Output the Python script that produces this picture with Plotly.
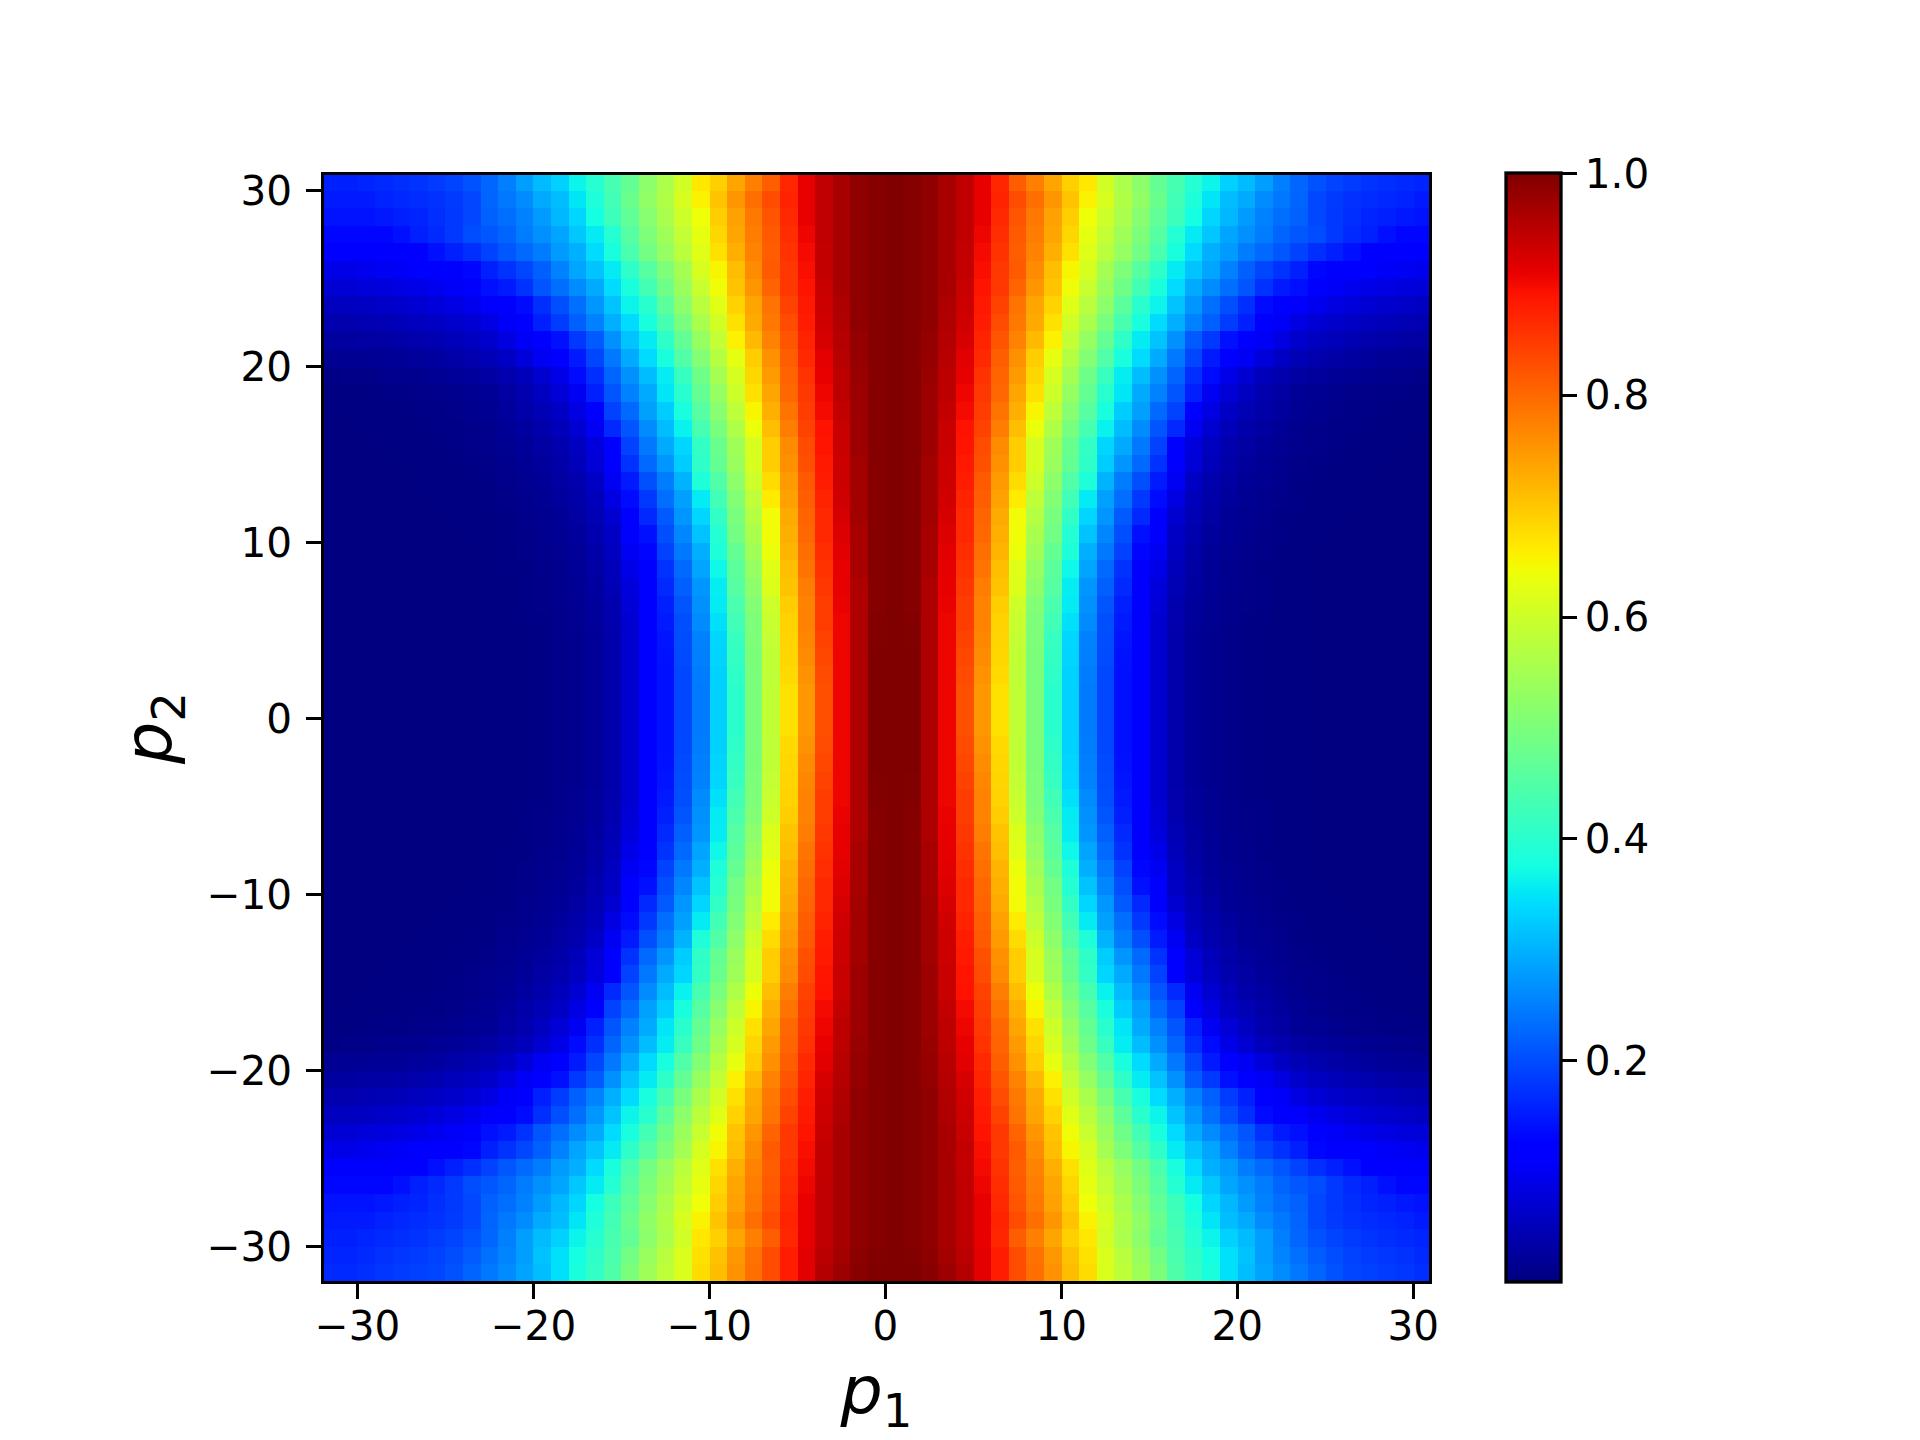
import plotly.graph_objects as go

# cell edges, pcolor style: 64 edges give 63 cells
p_edges = list(range(-32, 32))

# values, by |p2| (32 down to 0), each row by |p1| (32 down to 0)
# the picture mirrors around the cell at p1=0 and the cell at p2=0
z_abs_p2 = {
    32: [.165, .165, .17, .178, .183, .188, .193, .205, .223, .243, .262, .286, .311, .345, .38, .41, .445, .5, .545, .58, .615, .677, .71, .755, .793, .83, .88, .915, .955, .975, .992, 1, 1],
    31: [.16, .16, .165, .173, .178, .183, .19, .2, .215, .235, .255, .28, .315, .345, .375, .405, .44, .49, .535, .575, .615, .672, .705, .75, .79, .83, .88, .915, .95, .97, .99, .998, 1],
    30: [.155, .155, .16, .165, .17, .175, .183, .192, .205, .225, .25, .28, .31, .33, .365, .395, .435, .47, .52, .56, .605, .665, .69, .735, .775, .81, .87, .91, .945, .965, .985, .995, 1],
    29: [.15, .15, .15, .158, .163, .168, .173, .182, .195, .223, .243, .262, .292, .311, .35, .386, .429, .478, .526, .563, .611, .654, .703, .751, .793, .83, .873, .91, .945, .965, .985, .995, 1],
    28: [.143, .143, .143, .148, .155, .16, .17, .18, .195, .22, .233, .252, .277, .306, .335, .375, .423, .466, .514, .557, .6, .64, .693, .74, .783, .82, .868, .91, .945, .965, .985, .995, 1],
    27: [.13, .13, .13, .13, .14, .155, .165, .18, .2, .21, .223, .247, .267, .287, .321, .355, .393, .453, .502, .545, .587, .63, .682, .735, .778, .815, .862, .905, .945, .965, .985, .995, 1],
    26: [.115, .115, .115, .115, .118, .122, .14, .155, .17, .19, .21, .228, .247, .277, .297, .34, .38, .44, .49, .532, .575, .622, .672, .725, .772, .81, .857, .9, .942, .965, .985, .995, 1],
    25: [.09, .09, .095, .1, .105, .11, .115, .12, .13, .155, .174, .194, .218, .252, .287, .316, .355, .405, .453, .502, .55, .611, .65, .709, .762, .815, .852, .895, .942, .965, .985, .995, 1],
    24: [.072, .073, .076, .08, .085, .09, .097, .105, .115, .14, .15, .174, .208, .233, .262, .292, .34, .38, .43, .484, .538, .593, .642, .703, .751, .804, .852, .889, .938, .965, .985, .995, 1],
    23: [.054, .055, .058, .062, .067, .072, .078, .085, .095, .107, .12, .135, .17, .203, .233, .272, .316, .365, .399, .46, .52, .575, .622, .688, .735, .788, .84, .884, .933, .96, .985, .995, 1],
    22: [.04, .041, .043, .046, .05, .054, .059, .065, .073, .085, .105, .125, .155, .184, .218, .252, .297, .34, .38, .435, .496, .557, .605, .672, .73, .783, .83, .88, .93, .958, .985, .995, 1],
    21: [.028, .029, .03, .032, .035, .039, .044, .05, .056, .066, .083, .103, .12, .14, .18, .213, .267, .316, .355, .405, .47, .532, .587, .655, .714, .772, .82, .873, .925, .955, .982, .995, 1],
    20: [.016, .017, .018, .02, .022, .025, .029, .034, .04, .048, .06, .078, .1, .12, .15, .194, .243, .292, .34, .38, .447, .508, .569, .63, .693, .756, .81, .868, .915, .952, .98, .995, 1],
    19: [.006, .007, .008, .01, .012, .014, .017, .021, .025, .03, .04, .05, .07, .09, .135, .17, .223, .267, .311, .356, .417, .484, .55, .611, .682, .746, .804, .857, .91, .948, .978, .995, 1],
    18: [.003, .003, .004, .005, .006, .007, .009, .012, .016, .02, .03, .04, .055, .075, .1, .155, .208, .252, .292, .35, .399, .472, .532, .6, .672, .735, .8, .852, .905, .948, .975, .995, 1],
    17: [.002, .002, .002, .003, .004, .005, .006, .008, .012, .016, .025, .035, .045, .06, .085, .12, .19, .228, .282, .326, .38, .453, .514, .581, .65, .725, .788, .846, .9, .942, .975, .995, 1],
    16: [.001, .001, .002, .002, .003, .004, .005, .006, .009, .013, .02, .028, .037, .05, .07, .1, .164, .208, .262, .311, .362, .435, .496, .563, .636, .709, .778, .84, .89, .938, .975, .995, 1],
    15: [.001, .001, .001, .002, .002, .003, .004, .005, .007, .01, .015, .022, .03, .04, .055, .08, .12, .19, .243, .292, .335, .41, .478, .545, .611, .693, .762, .83, .889, .938, .975, .995, 1],
    14: [.001, .001, .001, .001, .002, .002, .003, .004, .005, .008, .012, .018, .025, .035, .05, .075, .115, .174, .228, .272, .326, .405, .472, .538, .611, .693, .756, .825, .884, .933, .97, .995, 1],
    13: [.001, .001, .001, .001, .001, .002, .002, .003, .004, .006, .01, .015, .02, .03, .04, .06, .1, .15, .203, .247, .301, .386, .447, .52, .6, .677, .746, .815, .88, .933, .97, .995, 1],
    12: [.001, .001, .001, .001, .001, .001, .002, .002, .003, .005, .008, .012, .016, .024, .035, .05, .085, .135, .18, .233, .282, .355, .429, .508, .581, .661, .74, .81, .873, .93, .97, .995, 1],
    11: [.001, .001, .001, .001, .001, .001, .001, .002, .002, .004, .006, .01, .014, .02, .03, .045, .07, .12, .164, .213, .272, .335, .41, .496, .569, .643, .73, .804, .868, .925, .97, .995, 1],
    10: [.001, .001, .001, .001, .001, .001, .001, .001, .002, .003, .005, .008, .012, .018, .025, .04, .06, .11, .14, .203, .257, .316, .393, .49, .557, .642, .725, .8, .868, .92, .965, .995, 1],
    9: [.001, .001, .001, .001, .001, .001, .001, .001, .001, .003, .004, .007, .01, .015, .022, .035, .055, .1, .13, .19, .243, .297, .386, .472, .545, .636, .719, .793, .862, .915, .965, .995, 1],
    8: [.001, .001, .001, .001, .001, .001, .001, .001, .001, .002, .004, .006, .009, .013, .02, .03, .05, .09, .122, .174, .228, .287, .368, .46, .532, .622, .709, .788, .857, .912, .965, .995, 1],
    7: [.001, .001, .001, .001, .001, .001, .001, .001, .001, .002, .003, .005, .008, .012, .018, .028, .045, .08, .12, .164, .218, .272, .356, .453, .52, .618, .703, .778, .852, .91, .96, .995, 1],
    6: [.001, .001, .001, .001, .001, .001, .001, .001, .001, .002, .003, .005, .007, .011, .016, .025, .04, .075, .118, .155, .208, .267, .355, .44, .508, .6, .693, .772, .846, .908, .96, .995, 1],
    5: [.001, .001, .001, .001, .001, .001, .001, .001, .001, .002, .003, .004, .006, .01, .015, .023, .038, .07, .116, .15, .203, .262, .345, .429, .502, .593, .688, .772, .846, .905, .96, .998, 1],
    4: [.001, .001, .001, .001, .001, .001, .001, .001, .001, .002, .003, .004, .006, .009, .014, .022, .036, .068, .115, .145, .2, .252, .335, .417, .502, .587, .685, .767, .84, .905, .96, .998, 1],
    3: [.001, .001, .001, .001, .001, .001, .001, .001, .001, .002, .003, .004, .006, .009, .014, .022, .036, .068, .115, .142, .198, .25, .333, .412, .5, .585, .683, .762, .835, .905, .96, 1, 1],
    2: [.001, .001, .001, .001, .001, .001, .001, .001, .001, .002, .003, .004, .006, .009, .014, .022, .036, .068, .115, .14, .196, .247, .331, .405, .5, .583, .68, .755, .83, .905, .96, 1, 1],
    1: [.001, .001, .001, .001, .001, .001, .001, .001, .001, .002, .003, .004, .006, .009, .014, .022, .036, .068, .115, .14, .195, .245, .33, .4, .5, .585, .672, .75, .825, .905, .96, 1, 1],
    0: [.001, .001, .001, .001, .001, .001, .001, .001, .001, .002, .003, .004, .006, .009, .014, .022, .036, .068, .115, .14, .195, .245, .33, .4, .5, .585, .672, .75, .825, .905, .96, 1, 1],
}

axis_ticks = [-30, -20, -10, 0, 10, 20, 30]
cbar_ticks = [0.2, 0.4, 0.6, 0.8, 1.0]

# matplotlib jet knots
jet = [
    [0.0, "rgb(0,0,128)"], [0.11, "rgb(0,0,255)"], [0.125, "rgb(0,0,255)"],
    [0.34, "rgb(0,219,255)"], [0.35, "rgb(0,230,247)"], [0.375, "rgb(21,255,226)"],
    [0.64, "rgb(238,255,8)"], [0.65, "rgb(247,246,0)"], [0.66, "rgb(255,236,0)"],
    [0.89, "rgb(255,19,0)"], [0.91, "rgb(232,0,0)"], [1.0, "rgb(128,0,0)"],
]

z = [[z_abs_p2[abs(p2)][32 - abs(p1)] for p1 in p_edges[:-1]] for p2 in p_edges[:-1]]

W, H = 1920, 1440
FONT = "DejaVu Sans"
TICK_PX = 40.5
LW = 3.3

fig = go.Figure(go.Heatmap(
    x=p_edges, y=p_edges, z=z,
    zmin=0, zmax=1,
    colorscale=jet,
    hoverongaps=False,
    colorbar=dict(
        x=1506 / W, xanchor="left", xpad=0,
        y=(H - 1282.4) / H, yanchor="bottom", ypad=0,
        thickness=54.5, thicknessmode="pixels",
        len=1109, lenmode="pixels",
        outlinewidth=LW, outlinecolor="black",
        tickmode="array", tickvals=cbar_ticks, tickformat=".1f",
        tickprefix="\u2009",  # colorbars have no label standoff
        ticks="outside", ticklen=14.6, tickwidth=LW, tickcolor="black",
        tickfont=dict(family=FONT, size=TICK_PX, color="black"),
    ),
))

axis_style = dict(
    tickmode="array", tickvals=axis_ticks,
    showgrid=False, zeroline=False,
    showline=True, mirror=True, linecolor="black", linewidth=LW,
    ticks="outside", ticklen=14.6, tickwidth=LW, tickcolor="black",
    tickfont=dict(family=FONT, size=TICK_PX, color="black"),
)

# plotly draws spines outside the plot area, matplotlib centres them on the edge,
# so the ranges stop just inside -32 and 31 to keep the ticks where they belong
fig.update_layout(
    width=W, height=H,
    margin=dict(l=0, r=0, t=0, b=0, autoexpand=False),
    paper_bgcolor="white", plot_bgcolor="white",
    font=dict(family=FONT, color="black"),
    xaxis=dict(axis_style, domain=[324 / W, 1429 / W], range=[-31.9, 30.89],
               ticklabelstandoff=-7,
               title=dict(text="<i>p</i><sub>1</sub>", font=dict(family=FONT, size=66.67), standoff=17)),
    yaxis=dict(axis_style, domain=[(H - 1281) / H, (H - 175) / H], range=[-31.94, 30.89],
               ticklabelstandoff=6,
               title=dict(text="<i>p</i><sub>2</sub>", font=dict(family=FONT, size=66.67), standoff=14)),
)

fig.write_html("out.html", config=dict(displayModeBar=False),
               post_script="document.body.style.margin = '0';")
